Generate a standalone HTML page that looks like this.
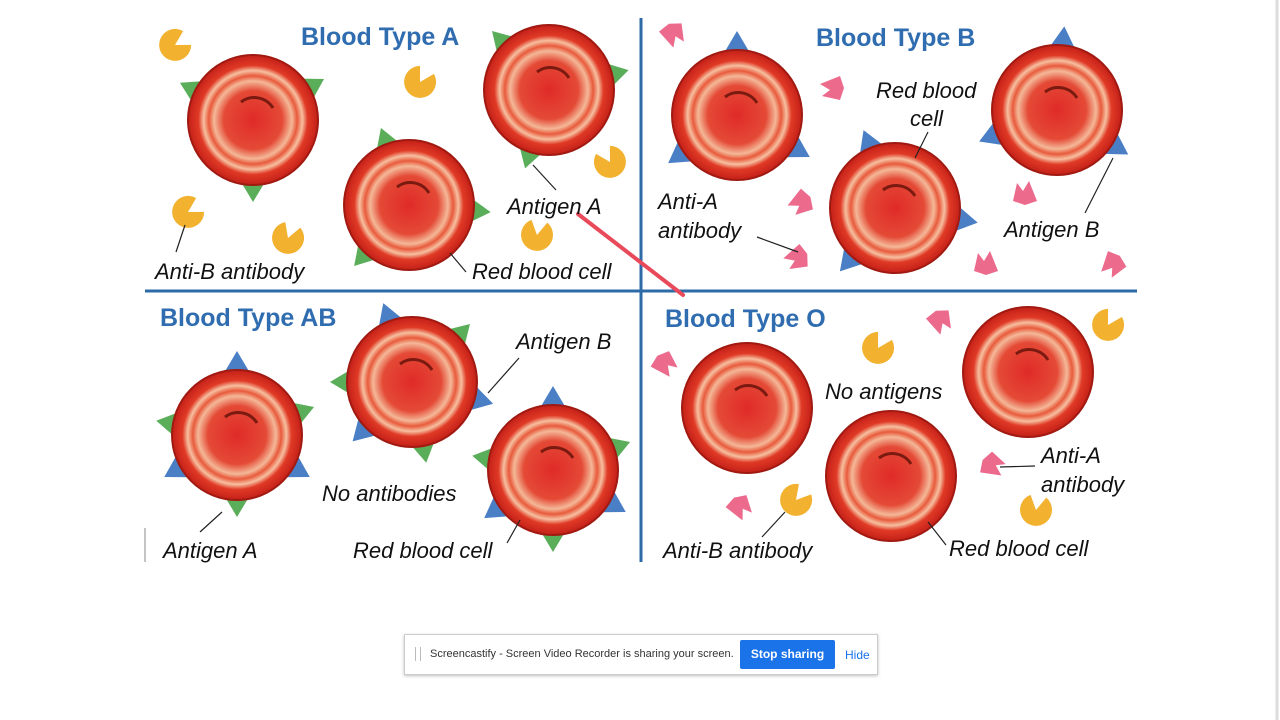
<!DOCTYPE html>
<html><head><meta charset="utf-8"><style>
html,body{margin:0;padding:0;background:#fff;width:1280px;height:720px;overflow:hidden;font-family:"Liberation Sans",sans-serif}
svg{position:absolute;left:0;top:0}
.bar{position:absolute;left:404px;top:634px;width:472px;height:39px;border:1px solid #ccc;box-shadow:0 1px 3px rgba(0,0,0,.25);background:#fff;font-size:11px;color:#333}
.bar .t{position:absolute;left:25px;top:13px;white-space:nowrap}
.bar .g{position:absolute;left:10px;top:12px;width:4px;height:14px;border-left:1px solid #bbb;border-right:1px solid #bbb}
.bar .b{position:absolute;left:335px;top:5px;width:95px;height:29px;background:#1a73e8;color:#fff;font-weight:bold;text-align:center;line-height:29px;border-radius:2px;font-size:12px}
.bar .h{position:absolute;left:440px;top:13px;color:#1a73e8;font-size:12px}
</style></head><body>
<svg width="1280" height="720" viewBox="0 0 1280 720">
<defs>
<radialGradient id="rg" cx="50%" cy="50%" r="50%">
<stop offset="0" stop-color="#e02a28"/><stop offset="0.45" stop-color="#e44a36"/>
<stop offset="0.6" stop-color="#f4b898"/><stop offset="0.68" stop-color="#e85a3c"/>
<stop offset="0.76" stop-color="#f6c0a0"/><stop offset="0.84" stop-color="#e03a26"/>
<stop offset="1" stop-color="#c42018"/></radialGradient>
<g id="cell"><circle r="65" fill="url(#rg)" stroke="#a01a12" stroke-width="2"/>
<path d="M-12,-18 A22,22 0 0 1 20,-12" fill="none" stroke="#7a1a10" stroke-width="3"/></g>
<polygon id="ta" points="-12,0 12,0 0,-20" fill="#5aae5a"/>
<polygon id="tb" points="-13,0 13,0 0,-22" fill="#4a7fc6"/>
<path id="pac" d="M0,0 L14,-8 A16,16 0 1 0 14,8 Z" fill="#f2b230"/>
<path id="pk" d="M-12,-8 L0,-12 L12,-8 L8,10 L2,2 L-4,12 Z" fill="#ec6a8c"/>
</defs>
<g stroke="#2c6aa8" stroke-width="3"><line x1="641" y1="18" x2="641" y2="562"/><line x1="145" y1="291" x2="1137" y2="291"/></g>
<line x1="145" y1="528" x2="145" y2="562" stroke="#888"/>
<!-- Type A -->
<g transform="translate(253,120)"><use href="#ta" transform="rotate(-63) translate(0,-62)"/><use href="#ta" transform="rotate(60) translate(0,-62)"/><use href="#ta" transform="rotate(180) translate(0,-62)"/><use href="#cell"/></g>
<g transform="translate(549,90)"><use href="#ta" transform="rotate(-44) translate(0,-62)"/><use href="#ta" transform="rotate(76) translate(0,-62)"/><use href="#ta" transform="rotate(197) translate(0,-62)"/><use href="#cell"/></g>
<g transform="translate(409,205)"><use href="#ta" transform="rotate(-20) translate(0,-62)"/><use href="#ta" transform="rotate(95) translate(0,-62)"/><use href="#ta" transform="rotate(222) translate(0,-62)"/><use href="#cell"/></g>
<g><use href="#pac" transform="translate(175,45) rotate(-30)"/><use href="#pac" transform="translate(420,82) rotate(-60)"/><use href="#pac" transform="translate(610,162) rotate(-120)"/>
<use href="#pac" transform="translate(188,212) rotate(-30)"/><use href="#pac" transform="translate(288,238) rotate(-70)"/><use href="#pac" transform="translate(537,235) rotate(-80)"/></g>
<!-- Type B -->
<g transform="translate(737,115)"><use href="#tb" transform="rotate(0) translate(0,-62)"/><use href="#tb" transform="rotate(235) translate(0,-62)"/><use href="#tb" transform="rotate(120) translate(0,-62)"/><use href="#cell"/></g>
<g transform="translate(1057,110)"><use href="#tb" transform="rotate(5) translate(0,-62)"/><use href="#tb" transform="rotate(248) translate(0,-62)"/><use href="#tb" transform="rotate(122) translate(0,-62)"/><use href="#cell"/></g>
<g transform="translate(895,208)"><use href="#tb" transform="rotate(-22) translate(0,-62)"/><use href="#tb" transform="rotate(100) translate(0,-62)"/><use href="#tb" transform="rotate(221) translate(0,-62)"/><use href="#cell"/></g>
<g><use href="#pk" transform="translate(673,35) rotate(-20)"/><use href="#pk" transform="translate(832,88) rotate(90)"/><use href="#pk" transform="translate(800,203) rotate(60)"/>
<use href="#pk" transform="translate(796,258) rotate(70)"/><use href="#pk" transform="translate(1025,193) rotate(180)"/><use href="#pk" transform="translate(986,263) rotate(180)"/><use href="#pk" transform="translate(1112,265) rotate(40)"/></g>
<!-- Type AB -->
<g transform="translate(237,435)"><use href="#tb" transform="rotate(0) translate(0,-62)"/><use href="#ta" transform="rotate(-80) translate(0,-62)"/><use href="#ta" transform="rotate(70) translate(0,-62)"/><use href="#tb" transform="rotate(240) translate(0,-62)"/><use href="#tb" transform="rotate(120) translate(0,-62)"/><use href="#ta" transform="rotate(180) translate(0,-62)"/><use href="#cell"/></g>
<g transform="translate(412,382)"><use href="#tb" transform="rotate(-20) translate(0,-62)"/><use href="#ta" transform="rotate(45) translate(0,-62)"/><use href="#ta" transform="rotate(-90) translate(0,-62)"/><use href="#tb" transform="rotate(105) translate(0,-62)"/><use href="#tb" transform="rotate(225) translate(0,-62)"/><use href="#ta" transform="rotate(170) translate(0,-62)"/><use href="#cell"/></g>
<g transform="translate(553,470)"><use href="#tb" transform="rotate(0) translate(0,-62)"/><use href="#ta" transform="rotate(-80) translate(0,-62)"/><use href="#ta" transform="rotate(70) translate(0,-62)"/><use href="#tb" transform="rotate(235) translate(0,-62)"/><use href="#tb" transform="rotate(120) translate(0,-62)"/><use href="#ta" transform="rotate(180) translate(0,-62)"/><use href="#cell"/></g>
<!-- Type O -->
<g><use href="#cell" x="747" y="408"/><use href="#cell" x="1028" y="372"/><use href="#cell" x="891" y="476"/>
<use href="#pk" transform="translate(665,365) rotate(-40)"/><use href="#pk" transform="translate(940,322) rotate(-20)"/><use href="#pk" transform="translate(993,466) rotate(-60)"/><use href="#pk" transform="translate(740,508) rotate(-30)"/>
<use href="#pac" transform="translate(878,348) rotate(-60)"/><use href="#pac" transform="translate(1108,325) rotate(-60)"/><use href="#pac" transform="translate(796,500) rotate(-50)"/><use href="#pac" transform="translate(1036,510) rotate(-80)"/></g>
<!-- leader lines -->
<g stroke="#222" stroke-width="1.2" fill="none">
<line x1="185" y1="225" x2="176" y2="252"/><line x1="533" y1="165" x2="556" y2="190"/><line x1="450" y1="253" x2="466" y2="272"/>
<line x1="928" y1="132" x2="915" y2="158"/><line x1="1113" y1="158" x2="1085" y2="213"/><line x1="757" y1="237" x2="798" y2="252"/>
<line x1="519" y1="358" x2="488" y2="393"/><line x1="222" y1="512" x2="200" y2="532"/><line x1="520" y1="520" x2="507" y2="543"/>
<line x1="1000" y1="467" x2="1035" y2="466"/><line x1="785" y1="512" x2="762" y2="537"/><line x1="928" y1="522" x2="946" y2="545"/></g>
<line x1="578" y1="214" x2="683" y2="295" stroke="#e84a5a" stroke-width="4" stroke-linecap="round"/>
<g font-family="Liberation Sans, sans-serif" font-weight="bold" fill="#2f6db0" font-size="25">
<text x="301" y="45">Blood Type A</text><text x="816" y="46">Blood Type B</text>
<text x="160" y="326">Blood Type AB</text><text x="665" y="327">Blood Type O</text></g>
<g font-family="Liberation Sans, sans-serif" font-style="italic" fill="#111" font-size="22">
<text x="155" y="279">Anti-B antibody</text><text x="507" y="214">Antigen A</text><text x="472" y="279">Red blood cell</text>
<text x="876" y="98">Red blood</text><text x="910" y="126">cell</text><text x="658" y="209">Anti-A</text><text x="658" y="238">antibody</text><text x="1004" y="237">Antigen B</text>
<text x="516" y="349">Antigen B</text><text x="322" y="501">No antibodies</text><text x="163" y="558">Antigen A</text><text x="353" y="558">Red blood cell</text>
<text x="825" y="399">No antigens</text><text x="1041" y="463">Anti-A</text><text x="1041" y="492">antibody</text><text x="663" y="558">Anti-B antibody</text><text x="949" y="556">Red blood cell</text></g>
<line x1="1277" y1="0" x2="1277" y2="720" stroke="#ddd" stroke-width="3"/>
</svg>
<div class="bar"><div class="g"></div><div class="t">Screencastify - Screen Video Recorder is sharing your screen.</div><div class="b">Stop sharing</div><div class="h">Hide</div></div>
</body></html>
